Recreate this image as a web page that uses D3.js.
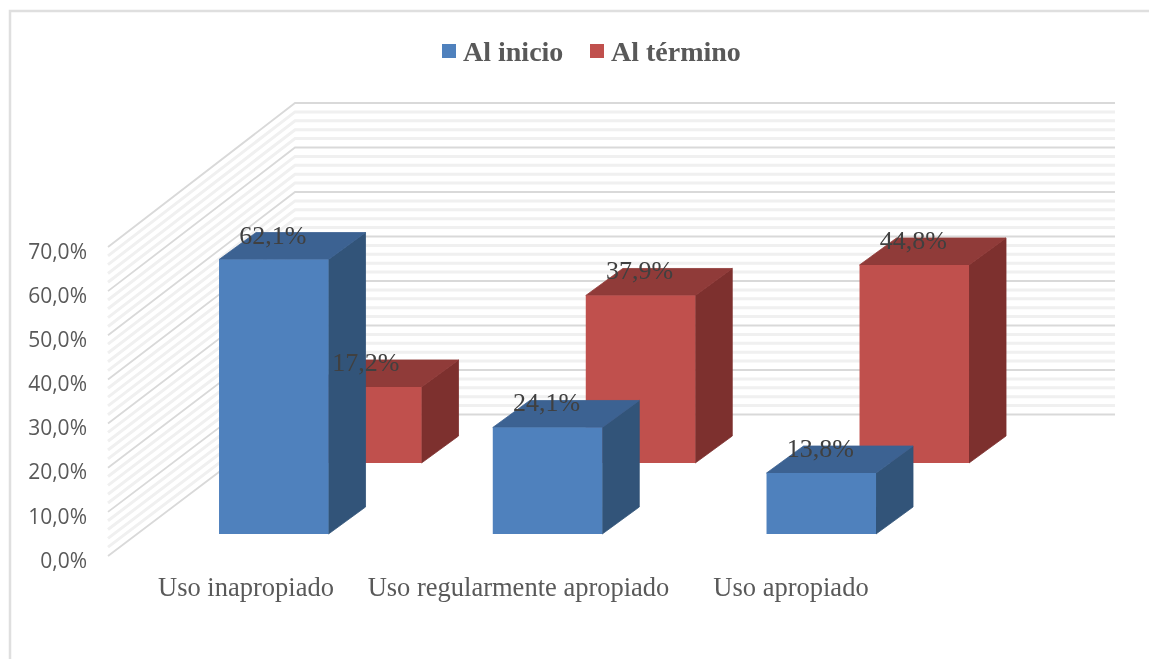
<!DOCTYPE html>
<html>
<head>
<meta charset="utf-8">
<script src="https://cdn.jsdelivr.net/npm/d3@7"></script>
<style>
  html, body { margin: 0; padding: 0; background: #fff; }
  svg { display: block; filter: blur(0.6px); }
</style>
</head>
<body>
<script>
const categories = ["Uso inapropiado", "Uso regularmente apropiado", "Uso apropiado"];
const alInicio = [62.1, 24.1, 13.8];
const alTermino = [17.2, 37.9, 44.8];
const yTicks = [0, 10, 20, 30, 40, 50, 60, 70];
const minorTicks = d3.range(0, 71, 2);

const width = 1149, height = 659;
const serif = "'Liberation Serif', serif";

const svg = d3.select("body").append("svg")
    .attr("width", width)
    .attr("height", height);

// outer frame, only left and top show in the picture
svg.append("path")
    .attr("d", `M10,${height + 5} V11 H${width + 5}`)
    .attr("fill", "none")
    .attr("stroke", "#dfdfdf")
    .attr("stroke-width", 2.5);

// the value scale at the front edge and on the back wall of the 3d box
const yFront = d3.scaleLinear().domain([0, 70]).range([556, 247]);
const yBack = d3.scaleLinear().domain([0, 70]).range([414.5, 103]);
const barH = d3.scaleLinear().domain([0, 70]).range([0, 309.4]);
const wallLeft = 108, wallBack = 295, wallRight = 1115;

const x = d3.scaleBand()
    .domain(categories)
    .range([136.9, 958.15])
    .paddingInner(0.6)
    .paddingOuter(0.3);

// category labels sit on the floor edge, further left than the bars
const xLabel = d3.scalePoint().domain(categories).range([246, 791]);

const walls = svg.append("g").attr("fill", "none");

function gridLine(sel) {
  sel.attr("d", d => `M${wallLeft},${yFront(d)} L${wallBack},${yBack(d)} H${wallRight}`);
}

walls.selectAll(".minor")
  .data(minorTicks.filter(d => d % 10 !== 0))
  .join("path")
    .attr("class", "minor")
    .attr("stroke", "#f0f0f0")
    .attr("stroke-width", 3)
    .call(gridLine);

walls.selectAll(".major")
  .data(yTicks)
  .join("path")
    .attr("class", "major")
    .attr("stroke", "#d9d9d9")
    .attr("stroke-width", 1.8)
    .call(gridLine);

// y axis
const yAxis = d3.axisLeft(yFront)
    .tickValues(yTicks)
    .tickSize(0)
    .tickPadding(0)
    .tickFormat(d => d.toFixed(1).replace(".", ",") + "%");

svg.append("g")
    .attr("transform", "translate(87,4.5)")
    .call(yAxis)
    .call(g => g.select(".domain").remove())
    .call(g => g.selectAll("text")
        .attr("font-family", "'Open Sans', sans-serif")
        .attr("font-size", 21)
        .attr("fill", "#595959"));

// bars, the red row sits behind the blue one
const dx = 37, dy = -27;
const series = [
  {name: "Al término", values: alTermino, shift: 93, floor: 463, front: "#c0504d", top: "#903b39", side: "#7d302e"},
  {name: "Al inicio", values: alInicio, shift: 0, floor: 534, front: "#4f81bd", top: "#3c6292", side: "#325479"}
];

series.forEach(s => {
  const g = svg.append("g");
  const bars = g.selectAll("g")
    .data(categories.map((c, i) => ({c, v: s.values[i]})))
    .join("g");
  const left = d => x(d.c) + s.shift;
  const w = x.bandwidth();
  const topY = d => s.floor - barH(d.v);

  // thin stroke closes the seam between the faces
  bars.append("path")
      .attr("fill", s.side)
      .attr("stroke", s.side)
      .attr("stroke-width", 0.8)
      .attr("d", d => `M${left(d) + w},${topY(d)} l${dx},${dy} v${barH(d.v)} l${-dx},${-dy} Z`);
  bars.append("path")
      .attr("fill", s.top)
      .attr("stroke", s.top)
      .attr("stroke-width", 0.8)
      .attr("d", d => `M${left(d)},${topY(d)} l${dx},${dy} h${w} l${-dx},${-dy} Z`);
  bars.append("rect")
      .attr("x", left)
      .attr("y", topY)
      .attr("width", w)
      .attr("height", d => barH(d.v))
      .attr("fill", s.front);
});

// data labels on top of everything
series.forEach(s => {
  svg.append("g").selectAll("text")
    .data(categories.map((c, i) => ({c, v: s.values[i]})))
    .join("text")
      .attr("x", d => x(d.c) + s.shift + x.bandwidth() / 2 - 1)
      .attr("y", d => s.floor - barH(d.v) + dy + 11)
      .attr("text-anchor", "middle")
      .attr("font-family", serif)
      .attr("font-size", 26)
      .attr("fill", "#404040")
      .text(d => d.v.toFixed(1).replace(".", ",") + "%");
});

// category labels
svg.append("g").selectAll("text")
  .data(categories)
  .join("text")
    .attr("x", d => xLabel(d))
    .attr("y", 596)
    .attr("text-anchor", "middle")
    .attr("font-family", serif)
    .attr("font-size", 26.5)
    .attr("fill", "#595959")
    .text(d => d);

// legend
const legend = svg.append("g").selectAll("g")
  .data([
    {name: "Al inicio", color: "#4f81bd", at: 442},
    {name: "Al término", color: "#c0504d", at: 590}
  ])
  .join("g")
    .attr("transform", d => `translate(${d.at},44)`);

legend.append("rect")
    .attr("width", 14)
    .attr("height", 14)
    .attr("fill", d => d.color);

legend.append("text")
    .attr("x", 21)
    .attr("y", 17)
    .attr("font-family", serif)
    .attr("font-weight", "bold")
    .attr("font-size", 28)
    .attr("fill", "#595959")
    .text(d => d.name);
</script>
</body>
</html>
